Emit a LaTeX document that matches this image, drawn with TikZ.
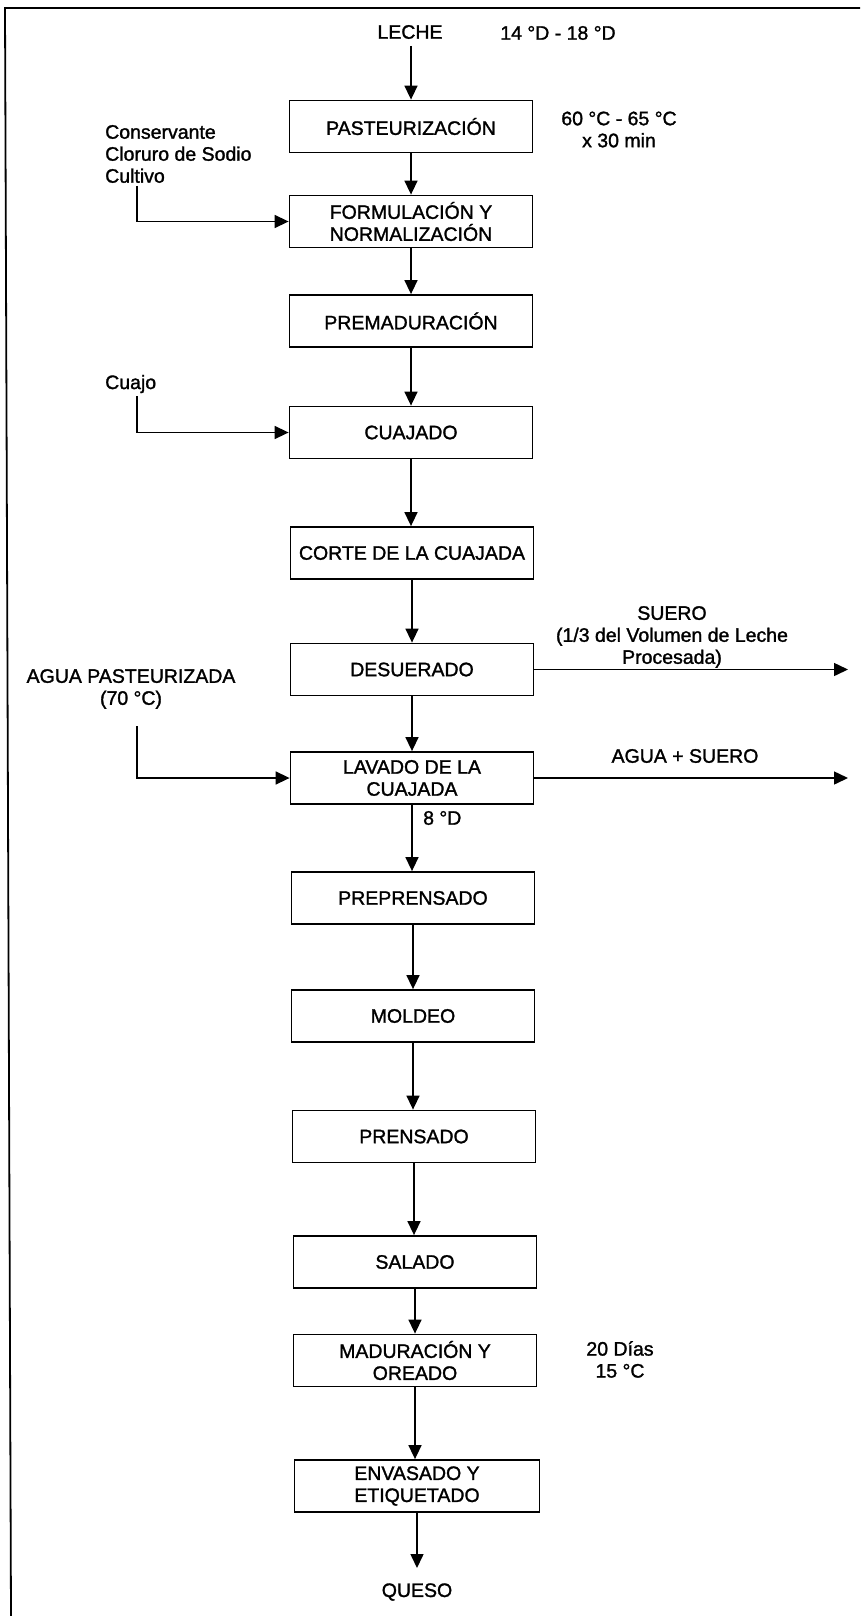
\documentclass[tikz,border=0pt]{standalone}
\usepackage{fontspec}
\setmainfont{Liberation Sans}[FakeBold=1.4]
\usetikzlibrary{arrows.meta}
\begin{document}
\begin{tikzpicture}[x=1pt,y=-1pt,
  every node/.style={font=\fontsize{19.5}{22}\selectfont, inner sep=0pt},
  stepbox/.style={draw, line width=1.8pt, minimum width=243pt, minimum height=52pt, align=center},
  lbl/.style={align=center},
  lbll/.style={align=left, anchor=west},
  flow/.style={line width=1.5pt, -{Triangle[length=14pt,width=13pt]}}]
\useasboundingbox (0,0) rectangle (860,1616);

% page frame (top and left edges)
\draw[line width=1.8pt] (860,8) -- (5,8) -- (11,1616);

% process steps
\node[stepbox] (past)  at (411,126.5) {PASTEURIZACIÓN};
\node[stepbox] (form)  at (411,221.5) {FORMULACIÓN Y\\NORMALIZACIÓN};
\node[stepbox] (prem)  at (411,321)   {PREMADURACIÓN};
\node[stepbox] (cuaj)  at (411,432.5) {CUAJADO};
\node[stepbox] (corte) at (412,553)   {CORTE DE LA CUAJADA};
\node[stepbox] (desu)  at (412,669.5) {DESUERADO};
\node[stepbox] (lava)  at (412,778)   {LAVADO DE LA\\CUAJADA};
\node[stepbox] (prep)  at (413,898)   {PREPRENSADO};
\node[stepbox] (mold)  at (413,1016)  {MOLDEO};
\node[stepbox] (pren)  at (414,1136.5) {PRENSADO};
\node[stepbox] (sala)  at (415,1262)  {SALADO};
\node[stepbox] (madu)  at (415,1360.5) {MADURACIÓN Y\\OREADO};
\node[stepbox, minimum width=245pt] (enva) at (417,1486) {ENVASADO Y\\ETIQUETADO};

% input, output and condition labels
\node (leche) at (410,32) {LECHE};
\node (acidez) at (558,33) {14 °D - 18 °D};
\node[lbl] (temp) at (619,129.5) {60 °C - 65 °C\\x 30 min};
\node[lbll] (aditivos) at (105,154) {Conservante\\Cloruro de Sodio\\Cultivo};
\node[lbll] (cuajo) at (105,384) {Cuajo};
\node[lbl] (suero) at (672,637) {SUERO\\(1/3 del Volumen de Leche\\Procesada)};
\node[lbl] (agua) at (131,689) {AGUA PASTEURIZADA\\(70 °C)};
\node (aguasuero) at (685,756) {AGUA + SUERO};
\node[anchor=west] (acid2) at (423,818) {8 °D};
\node[lbl] (madcond) at (620,1359.5) {20 Días\\15 °C};
\node (queso) at (417,1592) {QUESO};

% connector end points
\coordinate (lstart) at (411,46);
\coordinate (in1) at (137,186);
\coordinate (in2) at (137,396);
\coordinate (in3) at (137,726);
\coordinate (rx) at (848,0);
\coordinate (qend) at (417,1568);

% main flow
\draw[flow] (lstart) -- (lstart |- past.north);
\draw[flow] (past.south) -- (past.south |- form.north);
\draw[flow] (form.south) -- (form.south |- prem.north);
\draw[flow] (prem.south) -- (prem.south |- cuaj.north);
\draw[flow] (cuaj.south) -- (cuaj.south |- corte.north);
\draw[flow] (corte.south) -- (corte.south |- desu.north);
\draw[flow] (desu.south) -- (desu.south |- lava.north);
\draw[flow] (lava.south) -- (lava.south |- prep.north);
\draw[flow] (prep.south) -- (prep.south |- mold.north);
\draw[flow] (mold.south) -- (mold.south |- pren.north);
\draw[flow] (pren.south) -- (pren.south |- sala.north);
\draw[flow] (sala.south) -- (sala.south |- madu.north);
\draw[flow] (madu.south) -- (madu.south |- enva.north);
\draw[flow] (enva.south) -- (qend);

% side inputs
\draw[flow] (in1) |- (form.west);
\draw[flow] (in2) |- (cuaj.west);
\draw[flow] (in3) |- (lava.west);

% side outputs
\draw[flow] (desu.east) -- (desu.east -| rx);
\draw[flow] (lava.east) -- (lava.east -| rx);
\end{tikzpicture}
\end{document}
